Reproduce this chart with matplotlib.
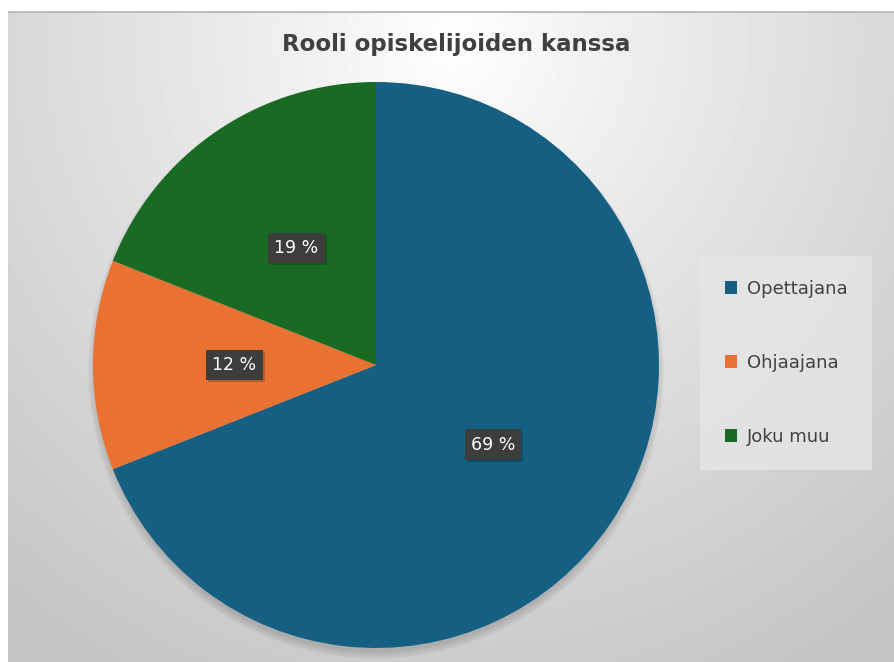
import numpy as np
import matplotlib.pyplot as plt
from matplotlib.patches import Patch
import matplotlib.patheffects as pe

# data
labels = ['Opettajana', 'Ohjaajana', 'Joku muu']
shares = [69, 12, 19]
colors = ['#156082', '#E97132', '#196B24']

W, H = 895, 662
fig = plt.figure(figsize=(W / 100, H / 100), dpi=100)
fig.patch.set_facecolor('white')

# gray radial background of the chart area
bg = fig.add_axes([8 / W, 0, 1 - 8 / W, 1 - 11 / H])
yy, xx = np.mgrid[0:651, 0:887]
d = np.sqrt(((xx - 445) / 700.0) ** 2 + ((yy - 30) / 720.0) ** 2)
v = 1.0 - 0.23 * np.clip(d, 0, 1) ** 0.9
bg.imshow(v, cmap='gray', vmin=0, vmax=1, aspect='auto', interpolation='bilinear')
bg.axhline(0, color='#bdbdbd', lw=1.5)
bg.set_axis_off()

# pie
r = 283
cx, cy = 376, 365
ax = fig.add_axes([(cx - r) / W, (H - cy - r) / H, 2 * r / W, 2 * r / H])
ax.set_axis_off()

# soft shadow, mostly below the pie
for i in range(6):
    sh = plt.Circle((0.0, -0.02), 0.99 + 0.005 * i, color='black', alpha=0.025,
                    zorder=0, clip_on=False)
    ax.add_patch(sh)

wedges, texts, autotexts = ax.pie(
    shares, colors=colors, startangle=90, counterclock=False,
    autopct=lambda p: f'{p:.0f} %', pctdistance=0.5,
    wedgeprops=dict(linewidth=0),
    textprops=dict(color='white', fontsize=12.5),
)
for t in autotexts:
    t.set_zorder(5)
    t.set_bbox(dict(boxstyle='square,pad=0.35', facecolor='#3d3d3d', edgecolor='none'))
    t.get_bbox_patch().set_path_effects([
        pe.SimplePatchShadow(offset=(1.5, -1.5), shadow_rgbFace='black', alpha=0.2),
        pe.Normal()])
ax.set_xlim(-1, 1)
ax.set_ylim(-1, 1)

fig.text(456 / W, 1 - 45 / H, 'Rooli opiskelijoiden kanssa', ha='center', va='center',
         fontsize=16.5, fontweight='bold', color='#404040')

handles = [Patch(facecolor=c, edgecolor='none') for c in colors]
leg = fig.legend(handles, labels, loc='center', bbox_to_anchor=(786 / W, 1 - 363 / H),
                 frameon=True, fontsize=13, labelcolor='#404040', handlelength=0.7,
                 handleheight=0.7, handletextpad=0.5, labelspacing=3.1,
                 borderpad=1.35, borderaxespad=0, fancybox=False)
leg.get_frame().set_facecolor('#e6e6e6')
leg.get_frame().set_edgecolor('none')
leg.get_frame().set_alpha(0.8)

fig.savefig('out.png', dpi=100)
